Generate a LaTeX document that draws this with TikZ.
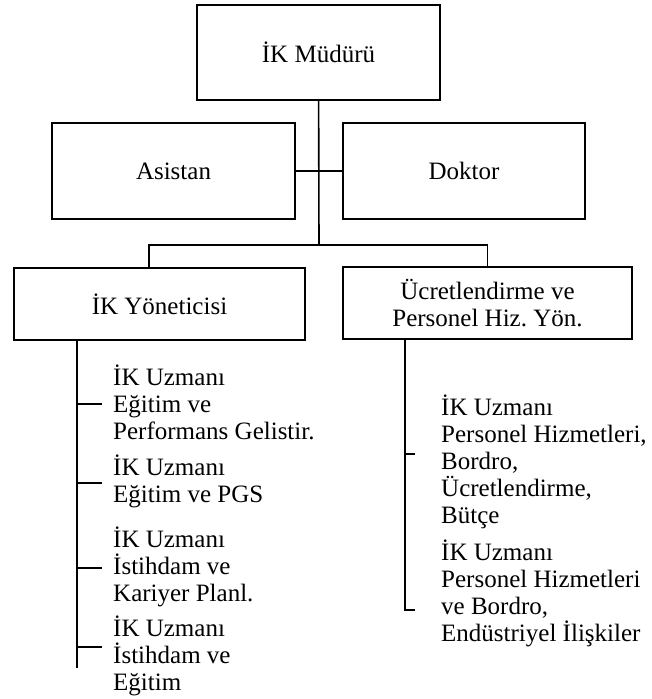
\documentclass[tikz,border=0pt]{standalone}
\usepackage{fontspec}
\setmainfont{Liberation Serif}
\usetikzlibrary{positioning}
\frenchspacing

\begin{document}
\begin{tikzpicture}[x=1pt, y=-1pt,
    kutu/.style={draw, line width=1.6pt, inner sep=0pt, align=center,
      font=\fontsize{25}{27}\selectfont},
    uzman/.style={anchor=west, align=left, inner sep=0pt,
      font=\fontsize{25}{27}\selectfont},
    hat/.style={line width=1.6pt}]
      \useasboundingbox (0,0) rectangle (651,699);

      \node[kutu, minimum width=243pt, minimum height=95pt] (mudur) at (318.5, 52.5) {İK Müdürü};
      \node[kutu, minimum width=243pt, minimum height=96pt] (asistan) at (173.5, 171) {Asistan};
      \node[kutu, minimum width=242pt, minimum height=96pt] (doktor) at (464, 171) {Doktor};
      \node[kutu, minimum width=291pt, minimum height=72pt] (yonetici) at (159.5, 304) {İK Yöneticisi};
      \node[kutu, minimum width=289pt, minimum height=72pt] (ucret) at (487.5, 303) {Ücretlendirme ve\\Personel Hiz. Yön.};

      \node[uzman] (u1) at (113, 402) {İK Uzmanı\\Eğitim ve\\Performans Gelistir.};
      \node[uzman] (u2) at (113, 481) {İK Uzmanı\\Eğitim ve PGS};
      \node[uzman] (u3) at (113, 567) {İK Uzmanı\\İstihdam ve\\Kariyer Planl.};
      \node[uzman] (u4) at (113, 656) {İK Uzmanı\\İstihdam ve\\Eğitim};

      \node[uzman] (r1) at (441, 462) {İK Uzmanı\\Personel Hizmetleri,\\Bordro,\\Ücretlendirme,\\Bütçe};
      \node[uzman] (r2) at (441, 593) {İK Uzmanı\\Personel Hizmetleri\\ve Bordro,\\Endüstriyel İlişkiler};

      \coordinate (bus) at (319, 245);
      \coordinate (lalt) at (77, 668);

      \draw[hat] (mudur) -- (bus);
      \draw[hat] (asistan) -- (doktor);
      \draw[hat] ([xshift=-10.5pt]yonetici.north) |- (bus) -| (ucret.north);

      \draw[hat] (yonetici.south -| lalt) -- (lalt);
      \foreach \n/\s in {u1/2, u2/2, u3/1, u4/-9}
        \draw[hat] ([shift={(-11,\s)}]\n.west) -- ++(-25,0);

      \draw[hat] ([shift={(-26,-8)}]r1.west) -- ++(-10,0);
      \draw[hat] (ucret.south -| {(405,0)}) |- ([shift={(-26,17)}]r2.west);
    \end{tikzpicture}
\end{document}
